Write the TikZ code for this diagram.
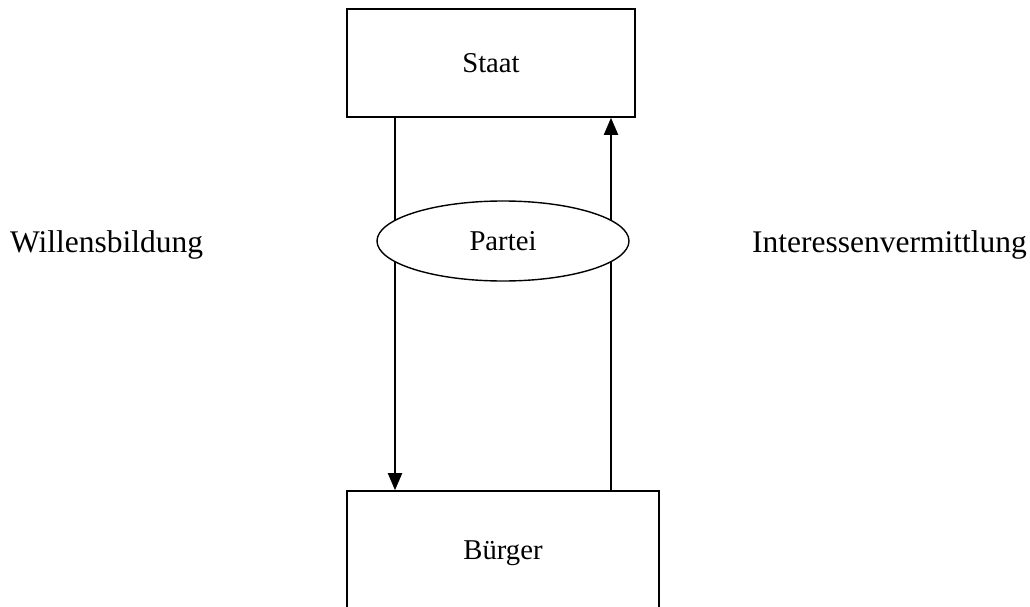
\documentclass[tikz,border=0pt]{standalone}
\usepackage{fontspec}
\setmainfont{Liberation Serif}
\usetikzlibrary{arrows.meta,shapes.geometric}
\begin{document}
\begin{tikzpicture}[x=1pt,y=-1pt,
  box/.style={draw,line width=1.6pt,rectangle,inner sep=0pt,font=\fontsize{28.7}{32}\selectfont},
  party/.style={draw,line width=1.4pt,ellipse,fill=white,inner sep=0pt,
    minimum width=252pt,minimum height=80pt,font=\fontsize{28.7}{32}\selectfont},
  sidelabel/.style={inner sep=0pt,font=\fontsize{31.5}{36}\selectfont},
  thinline/.style={line width=1.1pt},
  flow/.style={line width=2pt,-{Triangle[length=17pt,width=14pt]}}]
\useasboundingbox (0,0) rectangle (1030,607);
\clip (0,0) rectangle (1030,607);

% state and citizens
\node[box,minimum width=288pt,minimum height=108pt] (staat) at (491,63) {Staat};
\node[box,minimum width=312pt,minimum height=124pt] (buerger) at (503,553) {Bürger};

% party sits between the two flows
\coordinate (L) at (395,241);
\coordinate (R) at (611,241);

% left flow: will formation, downwards
\draw[thinline] (staat.south -| L) -- (L);
\draw[flow] (L) -- (buerger.north -| L);
% right flow: interest mediation, upwards
\draw[thinline] (buerger.north -| R) -- (R);
\draw[flow] (R) -- (staat.south -| R);

\node[party] (partei) at (503,241) {Partei};

\node[sidelabel,anchor=base west] (willen) at (10,252) {Willensbildung};
\node[sidelabel,anchor=base east] (interesse) at (1027,252) {Interessenvermittlung};
\end{tikzpicture}
\end{document}
